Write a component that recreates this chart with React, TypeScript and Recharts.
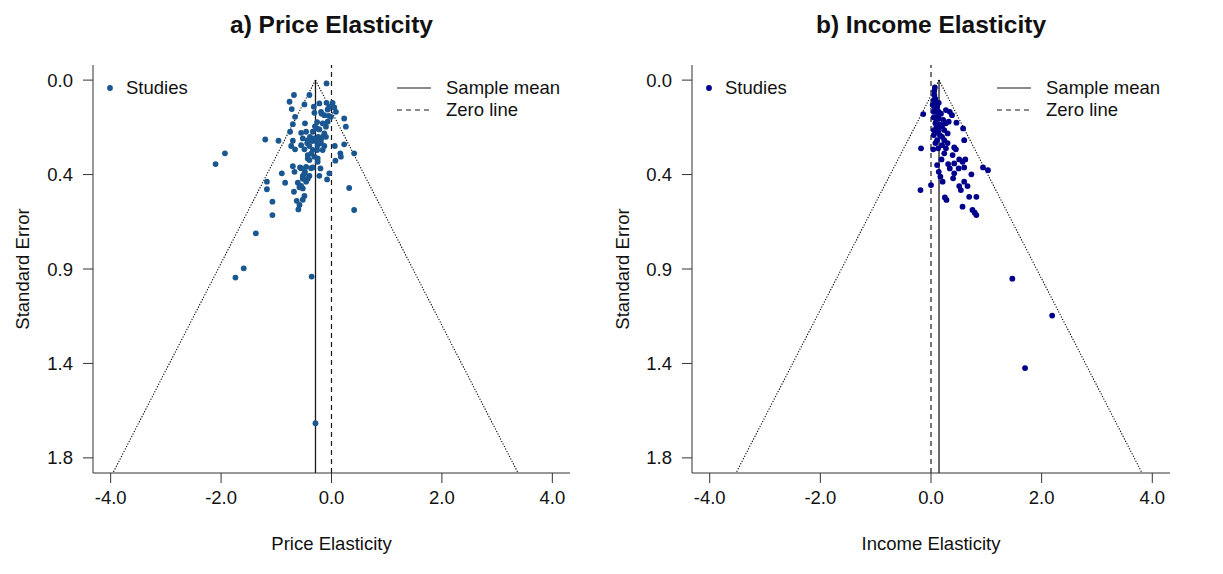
import React from 'react';
import { ScatterChart, Scatter, XAxis, YAxis, ReferenceLine } from 'recharts';

const X_TICKS = [-4, -2, 0, 2, 4];
const SE_TICKS = [0, 0.45, 0.9, 1.35, 1.8];
const SE_TICK_LABELS = ['0.0', '0.4', '0.9', '1.4', '1.8'];
const X_DOMAIN: [number, number] = [-4.32, 4.32];
const SE_DOMAIN: [number, number] = [-0.072, 1.872];
const PRICE_MEAN = -0.29;
const INCOME_MEAN = 0.145;
const Z = 1.96;

const TITLES = ['a) Price Elasticity', 'b) Income Elasticity'];
const X_LABELS = ['Price Elasticity', 'Income Elasticity'];
const Y_LABEL = 'Standard Error';
const LEGEND = ['Studies', 'Sample mean', 'Zero line'];

// [estimate, standard error]
const priceStudies: [number, number][] = [
  [-0.09, 0.016], [-0.68, 0.071], [-0.4, 0.071], [-0.76, 0.103], [-0.49, 0.116],
  [-0.22, 0.111], [-0.09, 0.108], [0.02, 0.108], [-0.72, 0.138], [-0.32, 0.127],
  [-0.31, 0.156], [-0.19, 0.151], [-0.07, 0.14], [0.08, 0.151], [-0.66, 0.175],
  [-0.13, 0.167], [-0.01, 0.175], [0.23, 0.183], [-0.07, 0.198], [-0.16, 0.206],
  [-0.7, 0.21], [-0.48, 0.206], [0.26, 0.222], [-0.1, 0.222], [-0.22, 0.235],
  [-0.75, 0.246], [-0.55, 0.251], [-0.46, 0.246], [-0.34, 0.246], [-0.13, 0.254],
  [-1.2, 0.283], [-0.96, 0.289], [-0.7, 0.289], [-0.52, 0.278], [-0.43, 0.286],
  [-0.31, 0.278], [-0.19, 0.283], [-0.1, 0.27], [-0.73, 0.314], [-0.55, 0.31],
  [-0.4, 0.314], [-0.25, 0.31], [-0.13, 0.314], [0.06, 0.314], [0.23, 0.306],
  [-0.66, 0.33], [-0.49, 0.33], [-0.34, 0.333], [-0.16, 0.333], [0.16, 0.349],
  [0.41, 0.349], [-1.93, 0.349], [-2.1, 0.4], [-0.43, 0.357], [-0.31, 0.365],
  [0.17, 0.365], [0.07, 0.384], [-0.4, 0.381], [-0.25, 0.389], [-0.7, 0.41],
  [-0.57, 0.416], [-0.46, 0.413], [-0.34, 0.416], [-0.2, 0.421], [-0.9, 0.444],
  [-0.67, 0.437], [-0.48, 0.437], [-0.52, 0.457], [-0.4, 0.457], [-0.22, 0.456],
  [-0.04, 0.444], [-0.08, 0.473], [-1.17, 0.484], [-0.84, 0.489], [-0.61, 0.489],
  [-0.46, 0.484], [-1.17, 0.52], [-0.58, 0.511], [-0.52, 0.516], [-0.68, 0.532],
  [0.32, 0.514], [-0.49, 0.552], [-0.63, 0.575], [-1.07, 0.579], [-0.58, 0.595],
  [-0.6, 0.616], [0.41, 0.619], [-1.07, 0.643], [-1.37, 0.73], [-1.59, 0.897],
  [-1.74, 0.941], [-0.36, 0.936], [-0.29, 1.635],
  [-0.04, 0.127], [-0.18, 0.16], [-0.26, 0.2], [-0.26, 0.23], [-0.39, 0.27],
  [-0.24, 0.27], [-0.16, 0.27], [-0.44, 0.3], [-0.19, 0.3], [-0.26, 0.333],
  [-0.37, 0.35], [-0.43, 0.373], [-0.25, 0.373], [-0.55, 0.42], [-0.37, 0.42],
  [-0.49, 0.445], [-0.52, 0.47], [-0.43, 0.47], [-0.55, 0.504], [-0.52, 0.57],
  [-0.28, 0.29], [-0.35, 0.29], [-0.3, 0.22], [-0.05, 0.17], [0.05, 0.13],
];

const incomeStudies: [number, number][] = [
  [0.06, 0.051], [0.06, 0.071], [0.05, 0.095], [0.14, 0.108], [0.03, 0.119],
  [0.11, 0.127], [-0.14, 0.162], [0.05, 0.151], [0.14, 0.151], [0.27, 0.143],
  [0.34, 0.151], [0.38, 0.167], [0.05, 0.178], [0.14, 0.183], [0.08, 0.206],
  [0.17, 0.214], [0.27, 0.206], [0.32, 0.198], [0.46, 0.203], [0.05, 0.238],
  [0.14, 0.238], [0.24, 0.238], [0.58, 0.23], [0.05, 0.262], [0.16, 0.262],
  [0.3, 0.254], [0.11, 0.286], [0.24, 0.286], [0.6, 0.286], [-0.18, 0.325],
  [0.04, 0.33], [0.13, 0.325], [0.27, 0.325], [0.42, 0.321], [0.45, 0.33],
  [0.24, 0.349], [0.39, 0.357], [0.19, 0.378], [0.51, 0.378], [0.62, 0.378],
  [0.11, 0.405], [0.31, 0.4], [0.42, 0.397], [0.57, 0.389], [0.34, 0.421],
  [0.5, 0.421], [0.6, 0.416], [0.94, 0.416], [1.03, 0.429], [0.14, 0.437],
  [0.42, 0.444], [0.17, 0.46], [0.4, 0.468], [0.73, 0.449], [0.21, 0.484],
  [0.6, 0.484], [0.0, 0.5], [0.51, 0.505], [0.66, 0.505], [-0.19, 0.524],
  [0.54, 0.524], [0.25, 0.559], [0.28, 0.571], [0.69, 0.556], [0.82, 0.556],
  [0.57, 0.603], [0.75, 0.619], [0.79, 0.632], [0.82, 0.643], [1.47, 0.946],
  [2.19, 1.122], [1.7, 1.372],
  [0.08, 0.09], [0.1, 0.12], [0.07, 0.14], [0.12, 0.17], [0.09, 0.2],
  [0.2, 0.22], [0.12, 0.25], [0.2, 0.27], [0.08, 0.3], [0.3, 0.3],
  [0.07, 0.115], [0.18, 0.16], [0.22, 0.19], [0.1, 0.22], [0.2, 0.31],
  [0.07, 0.035],
];

const FONT = "Arial, 'Liberation Sans', Helvetica, sans-serif";
const AXIS_COLOR = '#333';
const LINE_COLOR = '#1a1a1a';
const PRICE_COLOR = '#1A5690';
const INCOME_COLOR = '#00008B';
const FS = 18.5;

type PanelProps = {
  left: number;
  width: number;
  yWidth: number;
  right: number;
  data: [number, number][];
  mean: number;
  color: string;
  title: string;
  xLabel: string;
};

function Panel({ left, width, yWidth, right, data, mean, color, title, xLabel }: PanelProps) {
  const seMax = SE_DOMAIN[1];
  const pts = data.map(([x, se]) => ({ x, se }));
  const plotLeft = left + yWidth;
  const plotRight = left + width - right;
  const center = (plotLeft + plotRight) / 2;
  const textStyle: React.CSSProperties = { position: 'absolute', fontFamily: FONT, color: '#111', whiteSpace: 'nowrap' };
  return (
    <>
      <div style={{ position: 'absolute', left, top: 0 }}>
        <ScatterChart width={width} height={574} margin={{ top: 65, right, bottom: 41, left: 0 }}>
          <XAxis
            type="number"
            dataKey="x"
            domain={X_DOMAIN}
            ticks={X_TICKS}
            allowDataOverflow
            interval={0}
            tickFormatter={(v: number) => v.toFixed(1)}
            height={60}
            tickSize={10}
            tickMargin={8}
            stroke={AXIS_COLOR}
            tick={{ fill: '#111', fontSize: FS, fontFamily: FONT }}
          />
          <YAxis
            type="number"
            dataKey="se"
            reversed
            domain={SE_DOMAIN}
            ticks={SE_TICKS}
            allowDataOverflow
            interval={0}
            tickFormatter={(v: number) => SE_TICK_LABELS[SE_TICKS.indexOf(v)] ?? String(v)}
            width={yWidth}
            tickSize={10}
            tickMargin={10}
            stroke={AXIS_COLOR}
            tick={{ fill: '#111', fontSize: FS, fontFamily: FONT }}
          />
          <ReferenceLine x={0} stroke={LINE_COLOR} strokeWidth={1.2} strokeDasharray="5 4" />
          <ReferenceLine
            segment={[{ x: mean, y: 0 }, { x: mean, y: seMax }]}
            stroke={LINE_COLOR}
            strokeWidth={1.3}
            ifOverflow="visible"
          />
          <ReferenceLine
            segment={[{ x: mean, y: 0 }, { x: mean - Z * seMax, y: seMax }]}
            stroke="#000"
            strokeWidth={1.1}
            strokeDasharray="1.2 1.6"
            ifOverflow="visible"
          />
          <ReferenceLine
            segment={[{ x: mean, y: 0 }, { x: mean + Z * seMax, y: seMax }]}
            stroke="#000"
            strokeWidth={1.1}
            strokeDasharray="1.2 1.6"
            ifOverflow="visible"
          />
          <Scatter
            data={pts}
            isAnimationActive={false}
            shape={(p: any) => <circle cx={p.cx} cy={p.cy} r={2.9} fill={color} />}
          />
        </ScatterChart>
      </div>
      <div style={{ ...textStyle, left: center - 250, width: 500, top: 10, textAlign: 'center', fontSize: 24.5, fontWeight: 'bold', lineHeight: '30px' }}>
        {title}
      </div>
      <div style={{ ...textStyle, left: center - 200, width: 400, top: 533, textAlign: 'center', fontSize: FS, lineHeight: '22px' }}>
        {xLabel}
      </div>
      <div style={{ ...textStyle, left: left + 23, top: 269, fontSize: FS, lineHeight: '22px', transform: 'translate(-50%, -50%) rotate(-90deg)' }}>
        {Y_LABEL}
      </div>
      <svg style={{ position: 'absolute', left: 0, top: 0, pointerEvents: 'none' }} width={1223} height={574}>
        <circle cx={plotLeft + 17} cy={88} r={2.9} fill={color} />
        <line x1={plotRight - 173} x2={plotRight - 139} y1={88} y2={88} stroke={LINE_COLOR} strokeWidth={1.2} />
        <line x1={plotRight - 173} x2={plotRight - 139} y1={110} y2={110} stroke={LINE_COLOR} strokeWidth={1.2} strokeDasharray="5 4" />
      </svg>
      <div style={{ ...textStyle, left: plotLeft + 33, top: 77, fontSize: FS, lineHeight: '22px' }}>{LEGEND[0]}</div>
      <div style={{ ...textStyle, left: plotRight - 124, top: 77, fontSize: FS, lineHeight: '22px' }}>{LEGEND[1]}</div>
      <div style={{ ...textStyle, left: plotRight - 124, top: 99, fontSize: FS, lineHeight: '22px' }}>{LEGEND[2]}</div>
    </>
  );
}

export default function App() {
  return (
    <div style={{ position: 'absolute', left: 0, top: 0, width: 1223, height: 574, background: '#fff', overflow: 'hidden' }}>
      <Panel left={0} width={600} yWidth={93} right={30} data={priceStudies} mean={PRICE_MEAN} color={PRICE_COLOR} title={TITLES[0]} xLabel={X_LABELS[0]} />
      <Panel left={600} width={623} yWidth={92} right={53} data={incomeStudies} mean={INCOME_MEAN} color={INCOME_COLOR} title={TITLES[1]} xLabel={X_LABELS[1]} />
    </div>
  );
}
